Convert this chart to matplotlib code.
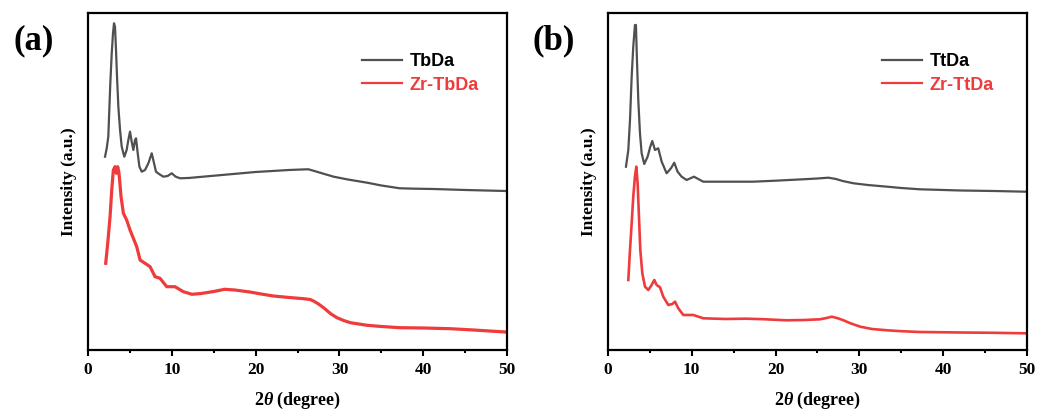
import matplotlib
matplotlib.use("Agg")
import matplotlib.pyplot as plt
from matplotlib.ticker import MultipleLocator

plt.rcParams["mathtext.fontset"] = "custom"
plt.rcParams["mathtext.rm"] = "Liberation Serif:bold"
plt.rcParams["mathtext.it"] = "Liberation Serif:bold:italic"

# ---- XRD patterns (2theta in degree, intensity in a.u.) ----
tbda_x = [2.03, 2.23, 2.42, 2.54, 2.66, 2.83, 2.98, 3.10, 3.22, 3.34, 3.46, 3.62,
          3.82, 4.02, 4.33, 4.61, 4.81, 5.01, 5.21, 5.41, 5.61, 5.73, 5.93, 6.13,
          6.41, 6.80, 7.20, 7.60, 7.88, 8.11, 8.47, 8.99, 9.50, 9.99, 10.46, 10.98,
          12.0, 14.0, 16.0, 18.0, 20.0, 22.0, 24.0, 25.5, 26.3, 27.0, 28.0, 29.3,
          31.0, 33.3, 35.0, 37.2, 39.0, 41.2, 45.0, 49.8]
tbda_y = [193.3, 201.7, 213.3, 240.0, 266.7, 296.7, 316.7, 326.7, 323.3, 300.0, 273.3, 243.3,
          220.0, 203.3, 193.3, 200.0, 210.0, 218.3, 208.3, 200.0, 210.0, 211.7, 196.7, 183.3,
          178.3, 180.0, 186.7, 196.7, 186.7, 178.3, 176.0, 173.3, 174.0, 176.7, 173.3, 171.7,
          172.0, 173.5, 175.0, 176.5, 178.0, 179.0, 180.0, 180.5, 180.7, 179.0, 176.5, 173.3,
          170.5, 167.3, 164.5, 161.7, 161.3, 161.0, 160.0, 159.0]

zr_tbda_x = [2.11, 2.35, 2.63, 2.83, 3.02, 3.22, 3.38, 3.54, 3.70, 3.94, 4.22, 4.61,
             5.01, 5.41, 5.81, 6.21, 6.80, 7.40, 8.00, 8.59, 9.39, 10.38, 11.37, 12.4,
             13.5, 15.0, 16.3, 17.5, 19.3, 21.0, 22.1, 24.0, 25.7, 26.5, 26.9, 27.5,
             28.1, 29.0, 29.7, 30.5, 31.3, 32.3, 33.3, 35.0, 37.2, 40.0, 43.2, 46.0, 49.8]
zr_tbda_y = [86.7, 106.7, 133.3, 160.0, 180.0, 183.3, 176.7, 183.3, 176.7, 153.3, 136.7, 130.0,
             120.0, 111.7, 103.3, 90.0, 86.7, 83.3, 73.3, 71.7, 63.3, 63.3, 58.3, 55.7,
             56.5, 58.5, 60.7, 60.0, 58.0, 55.5, 54.0, 52.5, 51.3, 50.5, 49.0, 46.0,
             42.3, 36.0, 32.3, 29.5, 27.3, 26.0, 24.7, 23.5, 22.3, 22.0, 21.3, 20.0, 18.0]

ttda_x = [2.15, 2.43, 2.63, 2.83, 3.02, 3.22, 3.34, 3.46, 3.62, 3.82, 4.02, 4.33,
          4.73, 5.05, 5.29, 5.61, 6.00, 6.41, 7.00, 7.52, 7.91, 8.31, 8.79, 9.39,
          10.26, 11.37, 14.0, 17.3, 20.0, 23.3, 25.0, 26.3, 27.2, 28.0, 29.3, 31.0,
          33.3, 35.0, 37.2, 42.0, 46.0, 49.8]
ttda_y = [183.3, 200.0, 230.0, 273.3, 303.3, 325.0, 325.0, 290.0, 250.0, 216.7, 196.7, 186.0,
          193.3, 203.3, 209.0, 200.0, 201.7, 188.3, 176.7, 181.7, 187.3, 178.3, 173.3, 170.0,
          173.3, 168.3, 168.3, 168.3, 169.3, 170.7, 171.5, 172.3, 171.0, 169.0, 166.7, 165.0,
          163.3, 162.0, 160.7, 159.5, 159.0, 158.3]

zr_ttda_x = [2.43, 2.63, 2.83, 3.02, 3.22, 3.38, 3.54, 3.70, 3.86, 4.10, 4.42, 4.81,
             5.21, 5.53, 5.81, 6.21, 6.60, 7.20, 7.68, 8.00, 8.39, 8.99, 10.18, 11.37,
             14.0, 16.5, 18.5, 21.3, 23.5, 25.3, 26.1, 26.7, 27.4, 28.1, 29.0, 30.1,
             31.5, 33.3, 35.0, 37.2, 42.0, 46.0, 49.8]
zr_ttda_y = [70.0, 100.0, 126.7, 153.3, 173.3, 183.3, 166.7, 133.3, 100.0, 76.7, 63.3, 60.0,
             65.0, 70.0, 65.0, 62.7, 53.3, 45.0, 46.0, 48.3, 41.7, 35.0, 35.0, 31.7,
             31.0, 31.3, 30.8, 29.7, 30.0, 30.7, 32.0, 33.3, 31.8, 29.7, 26.5, 23.3,
             21.0, 19.7, 18.8, 18.0, 17.5, 17.2, 16.7]

panels = [
    ("(a)", ("TbDa", tbda_x, tbda_y), ("Zr-TbDa", zr_tbda_x, zr_tbda_y), 2.3),
    ("(b)", ("TtDa", ttda_x, ttda_y), ("Zr-TtDa", zr_ttda_x, zr_ttda_y), 1.9),
]

GRAY = "#505050"
RED = "#ef3b3b"

fig = plt.figure(figsize=(10.38, 4.12), dpi=100)
lefts = [0.0848, 0.5857]

for left, (tag, parent, zr, red_lw) in zip(lefts, panels):
    ax = fig.add_axes([left, 0.1505, 0.4037, 0.8180])
    ax.plot(parent[1], parent[2], color=GRAY, lw=1.6, label=parent[0])
    ax.plot(zr[1], zr[2], color=RED, lw=red_lw, label=zr[0])
    ax.set_xlim(0, 50)
    ax.set_ylim(0, 337)
    ax.set_yticks([])
    ax.xaxis.set_major_locator(MultipleLocator(10))
    ax.xaxis.set_minor_locator(MultipleLocator(5))
    ax.tick_params(axis="x", which="major", direction="out", length=4, width=1.5,
                   top=False, pad=5)
    ax.tick_params(axis="x", which="minor", direction="out", length=2.5, width=1.5, top=False)
    for s in ax.spines.values():
        s.set_linewidth(1.6)
    for lab in ax.get_xticklabels():
        lab.set_fontfamily("Liberation Serif")
        lab.set_fontweight("bold")
        lab.set_fontsize(12.5)
    ax.set_xlabel(r"2$\mathit{\theta}$ (degree)", fontfamily="Liberation Serif",
                  fontweight="bold", fontsize=13, labelpad=8)
    ax.set_ylabel("Intensity (a.u.)", fontfamily="Liberation Serif",
                  fontweight="bold", fontsize=12.5, labelpad=8)
    leg = ax.legend(loc="upper left", bbox_to_anchor=(0.655, 0.880), frameon=False,
                    borderaxespad=0, borderpad=0, handlelength=2.2, handletextpad=0.4,
                    labelspacing=0.35,
                    prop={"family": "Liberation Sans", "weight": "bold", "size": 13})
    leg.get_texts()[0].set_color("black")
    leg.get_texts()[1].set_color(RED)
    for line in leg.get_lines():
        line.set_linewidth(1.6)
    fig.text(left - 0.052, 0.90, tag, fontfamily="Liberation Serif", fontweight="bold",
             fontsize=25, ha="center", va="center")

fig.savefig("out.png", dpi=100)
